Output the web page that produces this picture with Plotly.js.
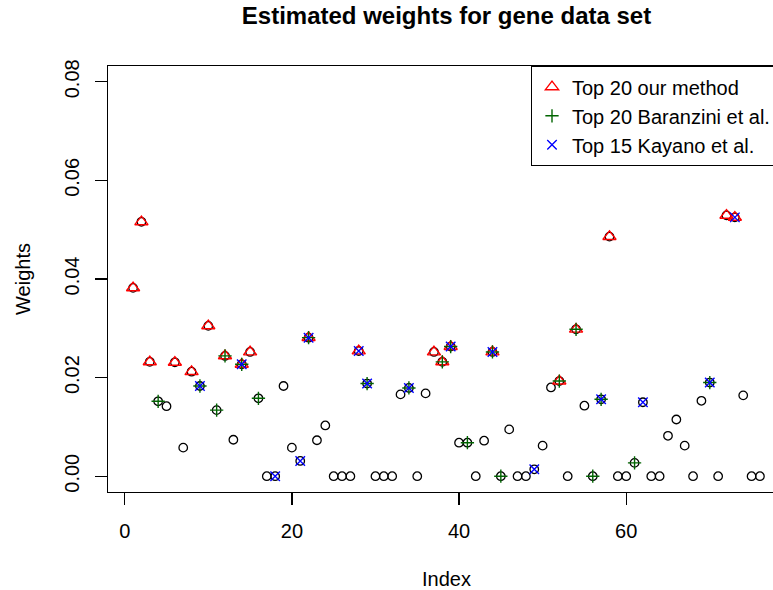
<!DOCTYPE html>
<html>
<head>
<meta charset="utf-8">
<script src="https://cdn.plot.ly/plotly-3.0.1.min.js"></script>
<style>
  html, body { margin: 0; padding: 0; overflow: hidden; background: #ffffff; }
  #chart { width: 800px; height: 590px; }
</style>
</head>
<body>
<div id="chart"></div>
<script>
// Estimated weight for each gene (index 1..76)
const weights = [
  0.0382, 0.0516, 0.0232, 0.0152, 0.0142, 0.0231, 0.0058, 0.0212, 0.0183, 0.0305,
  0.0134, 0.0244, 0.0074, 0.0227, 0.0252, 0.0158, 0.0000, 0.0000, 0.0183, 0.0058,
  0.0031, 0.0281, 0.0073, 0.0103, 0.0000, 0.0000, 0.0000, 0.0254, 0.0188, 0.0000,
  0.0000, 0.0000, 0.0166, 0.0179, 0.0000, 0.0168, 0.0252, 0.0232, 0.0263, 0.0068,
  0.0068, 0.0000, 0.0072, 0.0252, 0.0000, 0.0095, 0.0000, 0.0000, 0.0014, 0.0062,
  0.0180, 0.0193, 0.0000, 0.0298, 0.0143, 0.0000, 0.0156, 0.0486, 0.0000, 0.0000,
  0.0027, 0.0150, 0.0000, 0.0000, 0.0082, 0.0115, 0.0062, 0.0000, 0.0153, 0.0190,
  0.0000, 0.0529, 0.0525, 0.0164, 0.0000, 0.0000
];
// Indices selected by each method
const ourTop20 = [1, 2, 3, 6, 8, 10, 12, 14, 15, 22, 28, 37, 38, 39, 44, 52, 54, 58, 72, 73];
const baranziniTop20 = [4, 9, 11, 12, 14, 16, 22, 29, 34, 38, 39, 41, 44, 45, 52, 54, 56, 57, 61, 70];
const kayanoTop15 = [9, 14, 18, 21, 22, 28, 29, 34, 39, 44, 49, 57, 62, 70, 73];
// Axis ticks
const xTickVals = [0, 20, 40, 60];
const yTickVals = [0, 0.02, 0.04, 0.06, 0.08];
const yTickText = ["0.00", "0.02", "0.04", "0.06", "0.08"];
const seriesNames = ["Top 20 our method", "Top 20 Baranzini et al.", "Top 15 Kayano et al."];

const indexAll = weights.map((_, i) => i + 1);
const pick = idx => idx.map(i => weights[i - 1]);

const FONT = "Liberation Sans, Arial, Helvetica, sans-serif";

const traces = [
  {
    x: indexAll, y: weights, type: "scatter", mode: "markers",
    showlegend: false, hoverinfo: "x+y",
    marker: { symbol: "circle-open", size: 8.5, color: "#000000", line: { color: "#000000", width: 1.3 } }
  },
  {
    x: ourTop20, y: pick(ourTop20), type: "scatter", mode: "markers", name: seriesNames[0],
    marker: { symbol: "triangle-up-open", size: 11.5, color: "#ff0000", line: { color: "#ff0000", width: 1.4 } }
  },
  {
    x: baranziniTop20, y: pick(baranziniTop20), type: "scatter", mode: "markers", name: seriesNames[1],
    marker: { symbol: "cross-thin-open", size: 9.5, color: "#006400", line: { color: "#006400", width: 1.4 } }
  },
  {
    x: kayanoTop15, y: pick(kayanoTop15), type: "scatter", mode: "markers", name: seriesNames[2],
    marker: { symbol: "x-thin-open", size: 9.5, color: "#0000ff", line: { color: "#0000ff", width: 1.4 } }
  }
];

const layout = {
  width: 800, height: 590,
  margin: { l: 108, r: 15, t: 66, b: 98, pad: 0 },
  paper_bgcolor: "#ffffff", plot_bgcolor: "#ffffff",
  font: { family: FONT, size: 20, color: "#000000" },
  title: {
    text: "Estimated weights for gene data set",
    font: { family: FONT, size: 24, weight: "bold", color: "#000000" },
    x: 0.5, xref: "paper", xanchor: "center",
    y: 1 - 16 / 590, yref: "container", yanchor: "middle"
  },
  xaxis: {
    range: [-2, 79], tickmode: "array", tickvals: xTickVals,
    showgrid: false, zeroline: false,
    showline: true, mirror: true, linecolor: "#000000", linewidth: 1.3,
    ticks: "outside", ticklen: 12, tickwidth: 1.3, tickcolor: "#000000",
    ticklabelstandoff: 9,
    tickfont: { size: 20 },
    title: { text: "Index", font: { size: 20 }, standoff: 30 },
    automargin: false
  },
  yaxis: {
    range: [-0.0032, 0.0832], tickmode: "array", tickvals: yTickVals, ticktext: yTickText,
    tickangle: -90,
    showgrid: false, zeroline: false,
    showline: true, mirror: true, linecolor: "#000000", linewidth: 1.3,
    ticks: "outside", ticklen: 12, tickwidth: 1.3, tickcolor: "#000000",
    ticklabelstandoff: 8,
    tickfont: { size: 20 },
    title: { text: "Weights", font: { size: 20 }, standoff: 24 },
    automargin: false
  },
  legend: {
    x: (530.7 - 108) / 677, xanchor: "left", xref: "paper",
    y: 1, yanchor: "top", yref: "paper",
    bgcolor: "#ffffff", bordercolor: "#000000", borderwidth: 1.3,
    font: { family: FONT, size: 20, color: "#000000" },
    tracegroupgap: 0
  },
  showlegend: true
};

Plotly.newPlot("chart", traces, layout, { displayModeBar: false, staticPlot: true });
</script>
</body>
</html>
